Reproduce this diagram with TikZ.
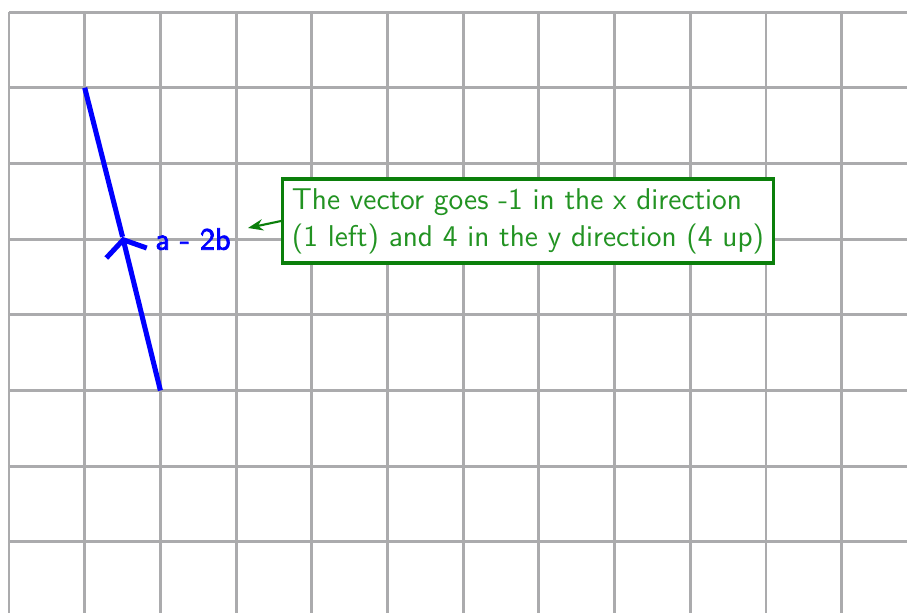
\documentclass[tikz,border=0pt]{standalone}
\usepackage{fontspec}
\usepackage{xcolor}
\usepackage{tikz}
\usetikzlibrary{arrows.meta}
\newfontfamily\vecfont[FakeBold=2.6]{Latin Modern Sans}
\definecolor{gridgray}{HTML}{ABABAD}
\definecolor{vecblue}{HTML}{0000FF}
\definecolor{notegreen}{HTML}{229322}
\definecolor{noteedge}{HTML}{0B7F0B}

\begin{document}
\begin{tikzpicture}[font=\sffamily]
  % frame of the picture
  \clip (-0.119,0.074) rectangle (11.863,8.159);
  \draw[gridgray,line width=1.1pt] (0,0) grid (11.9,8);
  % the vector
  \coordinate (tail) at (2,3);
  \coordinate (mid) at (1.5,5.03);
  \coordinate (head) at (1,7);
  \draw[vecblue,line width=1.9pt,-{Straight Barb[length=1.8mm,width=5.5mm]}] (tail) -- (mid);
  \draw[vecblue,line width=1.9pt] (mid) -- (head);
  \node[vecblue,font=\fontsize{11.6}{13}\selectfont\vecfont] (lbl) at (2.43,5) {a - 2b};
  % callout
  \node[draw=noteedge,line width=1.2pt,fill=white,text=notegreen,
        font=\fontsize{11.3}{13.9}\selectfont\sffamily,align=left,inner sep=3.5pt]
    (note) at (6.856,5.239) {The vector goes -1 in the x direction\\(1 left) and 4 in the y direction (4 up)};
  \coordinate (tip) at (3.157,5.147);
  \draw[noteedge,line width=0.8pt,-{Stealth[length=2mm]}] (note.west) -- (tip);
\end{tikzpicture}
\end{document}
